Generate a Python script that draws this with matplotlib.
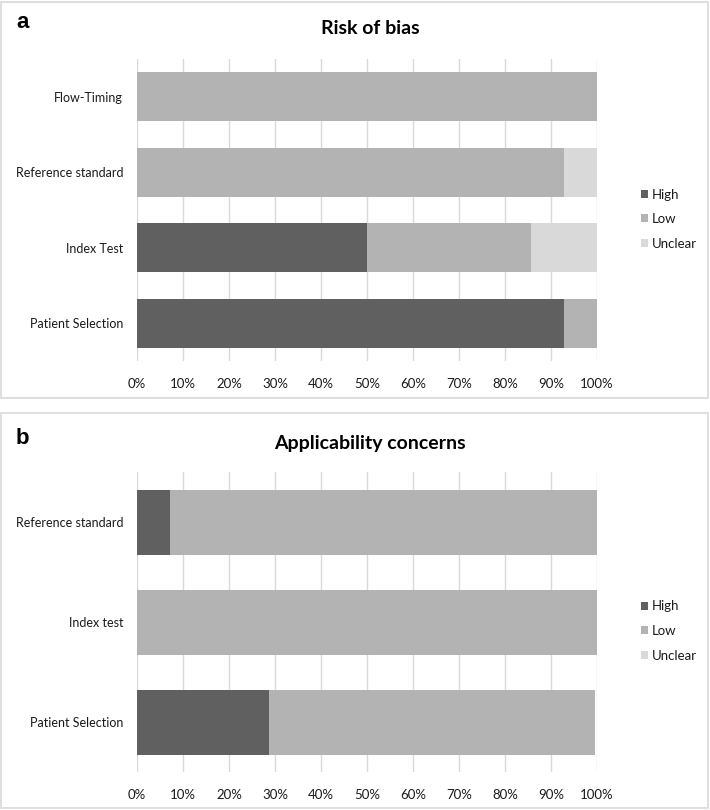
import matplotlib
matplotlib.use("Agg")
import matplotlib.pyplot as plt
from matplotlib.patches import Rectangle

# ---- data ----
rob_categories = ["Flow-Timing", "Reference standard", "Index Test", "Patient Selection"]
rob_high = [0.0, 0.0, 50.0, 92.9]
rob_low = [100.0, 92.9, 35.7, 7.1]
rob_unclear = [0.0, 7.1, 14.3, 0.0]

app_categories = ["Reference standard", "Index test", "Patient Selection"]
app_high = [7.1, 0.0, 28.6]
app_low = [92.9, 100.0, 71.0]
app_unclear = [0.0, 0.0, 0.0]

series_names = ["High", "Low", "Unclear"]
xtick_values = list(range(0, 101, 10))
xtick_labels = [f"{v}%" for v in xtick_values]
panel_titles = ["Risk of bias", "Applicability concerns"]
panel_letters = ["a", "b"]

colors = ["#606060", "#b3b3b3", "#d9d9d9"]
grid_col = "#d9d9d9"
text_col = "#1a1a1a"
FONT = "Lato"

W, H = 710, 810
fig = plt.figure(figsize=(W / 100, H / 100), dpi=100)


def fx(px):
    return px / W


def fy(py):
    return 1 - py / H


def draw_panel(top_px, bot_px, box, cats, high, low, unclear, title, letter, title_y, letter_y):
    left_px, right_px = 137, 597
    ax = fig.add_axes([fx(left_px), fy(bot_px), fx(right_px - left_px), (bot_px - top_px) / H])
    n = len(cats)
    ypos = list(range(n))
    lefts_low = list(high)
    lefts_unc = [a + b for a, b in zip(high, low)]
    b1 = ax.barh(ypos, high, height=0.65, color=colors[0], label=series_names[0], zorder=3)
    b2 = ax.barh(ypos, low, left=lefts_low, height=0.65, color=colors[1], label=series_names[1], zorder=3)
    b3 = ax.barh(ypos, unclear, left=lefts_unc, height=0.65, color=colors[2], label=series_names[2], zorder=3)
    ax.set_ylim(n - 0.5, -0.5)
    ax.set_xlim(0, 100)
    ax.set_yticks(ypos)
    ax.set_yticklabels(cats, fontsize=9, color=text_col, family=FONT)
    ax.set_xticks(xtick_values)
    ax.set_xticklabels(xtick_labels, fontsize=9.5, color=text_col, family=FONT)
    ax.tick_params(axis="y", length=0, pad=10)
    ax.tick_params(axis="x", length=0, pad=12)
    for s in ax.spines.values():
        s.set_visible(False)
    ax.xaxis.grid(True, color=grid_col, linewidth=1.0, zorder=0)
    ax.set_axisbelow(True)
    ax.legend(handles=[b1, b2, b3], loc="center left", bbox_to_anchor=(1.095, 0.47),
              frameon=False, prop={"family": FONT, "size": 9.5},
              handlelength=0.55, handleheight=0.55, handletextpad=0.3,
              labelspacing=0.95, borderpad=0, borderaxespad=0, labelcolor=text_col)
    fig.text(fx(370), fy(title_y), title, ha="center", va="center", fontsize=14,
             fontweight="bold", family=FONT, color="#000000")
    fig.text(fx(16), fy(letter_y), letter, ha="left", va="center", fontsize=16,
             fontweight="bold", family="Liberation Sans", color="#000000")
    x0, y0, x1, y1 = box
    fig.patches.append(Rectangle((fx(x0), fy(y1)), fx(x1 - x0), (y1 - y0) / H,
                                 transform=fig.transFigure, fill=False,
                                 edgecolor="#d9d9d9", linewidth=1.2))
    return ax


draw_panel(59, 361, (1.5, 1.5, 707.5, 398), rob_categories, rob_high, rob_low, rob_unclear,
           panel_titles[0], panel_letters[0], 28, 22)
draw_panel(472, 772, (1.5, 413, 707.5, 808), app_categories, app_high, app_low, app_unclear,
           panel_titles[1], panel_letters[1], 443, 438)

fig.savefig("out.png", dpi=100, facecolor="white")
